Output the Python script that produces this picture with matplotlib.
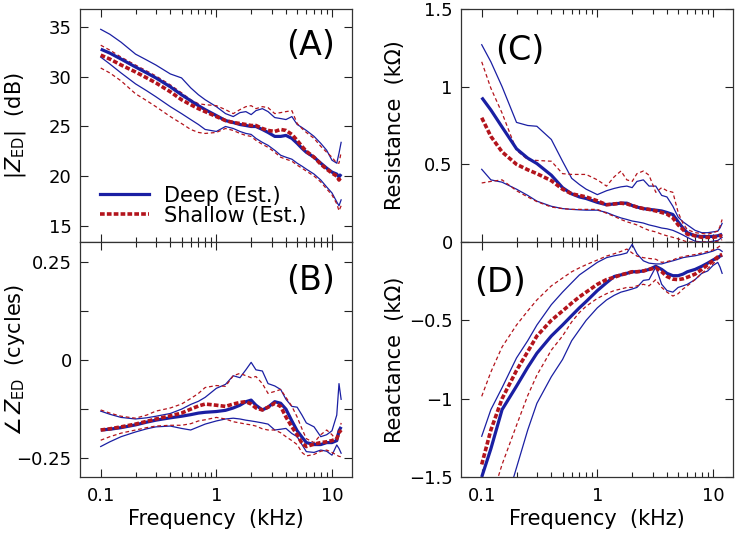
import matplotlib
matplotlib.use("Agg")
import matplotlib.pyplot as plt
from matplotlib.lines import Line2D
from matplotlib.ticker import FixedLocator, FuncFormatter, NullFormatter

# ---------------- data ----------------
freq_khz = [0.1, 0.12, 0.15, 0.2, 0.25, 0.3, 0.4, 0.5, 0.6, 0.7, 0.8, 1.0, 1.2, 1.4,
            1.6, 1.8, 2.0, 2.2, 2.5, 2.8, 3.2, 3.6, 4.0, 4.5, 5.0, 5.5, 6.0, 7.0,
            8.0, 9.0, 10.0, 11.0, 11.5, 12.0]

# (A) |Z_ED| (dB)
magA_deep_mean = [32.8, 32.4, 31.8, 31.0, 30.4, 29.9, 29.0, 28.2, 27.6, 27.1, 26.7, 26.1, 25.6, 25.4,
                  25.2, 25.1, 25.0, 25.0, 24.7, 24.4, 24.0, 24.0, 24.1, 23.8, 23.3, 22.8, 22.4, 21.9,
                  21.3, 20.8, 20.4, 20.2, 19.9, 20.2]
magA_deep_hi = [34.8, 34.3, 33.5, 32.3, 31.7, 31.2, 30.3, 29.9, 28.9, 28.2, 27.7, 27.0, 26.3, 26.0,
                26.4, 26.5, 26.2, 26.6, 26.8, 26.5, 25.9, 25.8, 25.7, 26.0, 25.2, 24.9, 24.6, 24.0,
                23.3, 22.6, 21.6, 21.3, 22.3, 23.4]
magA_deep_lo = [32.0, 31.3, 30.4, 29.3, 28.6, 28.0, 27.0, 26.3, 25.7, 25.2, 24.7, 24.5, 25.0, 24.8,
                24.5, 24.3, 24.2, 23.8, 23.4, 23.1, 22.6, 22.1, 21.9, 21.7, 21.3, 21.0, 20.7, 20.2,
                19.6, 18.9, 18.3, 17.4, 17.0, 17.6]
magA_shal_mean = [32.2, 31.8, 31.2, 30.5, 29.9, 29.4, 28.5, 27.7, 27.2, 26.8, 26.5, 26.0, 25.6, 25.4,
                  25.3, 25.2, 25.1, 25.1, 24.8, 24.6, 24.5, 24.7, 24.6, 24.2, 23.6, 23.0, 22.5, 21.9,
                  21.2, 20.7, 20.3, 20.0, 19.6, 19.9]
magA_shal_hi = [33.2, 32.7, 32.0, 31.2, 30.6, 30.1, 29.2, 28.4, 27.7, 27.3, 27.2, 27.1, 26.7, 26.3,
                26.7, 27.0, 27.1, 26.8, 27.0, 26.9, 26.3, 26.4, 26.5, 26.6, 25.3, 24.8, 24.4, 23.8,
                23.0, 22.4, 21.9, 21.3, 21.3, 22.4]
magA_shal_lo = [30.9, 30.4, 29.6, 28.3, 27.6, 27.0, 26.0, 25.3, 24.7, 24.4, 24.3, 24.4, 24.8, 24.6,
                24.3, 24.1, 24.0, 23.6, 23.2, 22.9, 22.4, 21.9, 21.7, 21.5, 21.1, 20.8, 20.5, 20.0,
                19.4, 18.7, 18.1, 17.2, 16.5, 17.0]

# (B) angle Z_ED (cycles)
angB_deep_mean = [-0.178, -0.176, -0.172, -0.165, -0.158, -0.153, -0.147, -0.143, -0.139, -0.135, -0.133,
                  -0.131, -0.128, -0.122, -0.115, -0.106, -0.102, -0.115, -0.127, -0.12, -0.106, -0.11,
                  -0.125, -0.155, -0.18, -0.196, -0.21, -0.215, -0.215, -0.21, -0.21, -0.205, -0.18, -0.17]
angB_deep_hi = [-0.13, -0.138, -0.146, -0.15, -0.147, -0.143, -0.136, -0.125, -0.113, -0.105, -0.095,
                -0.072, -0.062, -0.04, -0.045, -0.025, -0.006, -0.025, -0.028, -0.06, -0.066, -0.075,
                -0.1, -0.118, -0.12, -0.14, -0.16, -0.17, -0.195, -0.19, -0.18, -0.14, -0.06, -0.1]
angB_deep_lo = [-0.22, -0.208, -0.195, -0.183, -0.175, -0.17, -0.168, -0.174, -0.178, -0.17, -0.163,
                -0.155, -0.15, -0.148, -0.15, -0.153, -0.155, -0.157, -0.16, -0.163, -0.178, -0.176,
                -0.174, -0.187, -0.195, -0.215, -0.233, -0.235, -0.229, -0.232, -0.242, -0.216, -0.225, -0.237]
angB_shal_mean = [-0.178, -0.175, -0.17, -0.163, -0.156, -0.15, -0.142, -0.135, -0.125, -0.117, -0.112,
                  -0.115, -0.118, -0.112, -0.108, -0.106, -0.112, -0.122, -0.127, -0.12, -0.11, -0.118,
                  -0.145, -0.17, -0.19, -0.212, -0.22, -0.214, -0.21, -0.208, -0.205, -0.2, -0.185, -0.178]
angB_shal_hi = [-0.127, -0.135, -0.143, -0.148, -0.14, -0.13, -0.122, -0.112, -0.098, -0.085, -0.07,
                -0.065, -0.067, -0.04, -0.034, -0.04, -0.045, -0.042, -0.06, -0.085, -0.08, -0.075,
                -0.095, -0.118, -0.145, -0.175, -0.2, -0.21, -0.19, -0.178, -0.19, -0.205, -0.19, -0.16]
angB_shal_lo = [-0.204, -0.195, -0.186, -0.178, -0.172, -0.168, -0.166, -0.166, -0.162, -0.155, -0.152,
                -0.146, -0.15, -0.157, -0.16, -0.163, -0.165, -0.168, -0.175, -0.178, -0.178, -0.185,
                -0.195, -0.205, -0.215, -0.235, -0.244, -0.24, -0.232, -0.229, -0.235, -0.242, -0.245, -0.246]

# (C) Resistance (kOhm)
resC_deep_mean = [0.93, 0.85, 0.74, 0.60, 0.54, 0.505, 0.43, 0.35, 0.31, 0.29, 0.28, 0.255, 0.24, 0.245,
                  0.25, 0.25, 0.235, 0.225, 0.215, 0.21, 0.205, 0.2, 0.19, 0.177, 0.13, 0.09, 0.06, 0.04,
                  0.035, 0.035, 0.036, 0.04, 0.045, 0.05]
resC_deep_hi = [1.27, 1.16, 1.0, 0.77, 0.75, 0.745, 0.66, 0.52, 0.41, 0.37, 0.34, 0.305, 0.33, 0.345,
                0.355, 0.36, 0.35, 0.39, 0.40, 0.36, 0.36, 0.30, 0.29, 0.23, 0.16, 0.13, 0.11, 0.075,
                0.06, 0.06, 0.065, 0.07, 0.09, 0.12]
resC_deep_lo = [0.468, 0.40, 0.385, 0.34, 0.30, 0.263, 0.23, 0.215, 0.21, 0.207, 0.205, 0.205, 0.19, 0.17,
                0.155, 0.145, 0.135, 0.13, 0.122, 0.11, 0.1, 0.09, 0.085, 0.075, 0.06, 0.045, 0.03, 0.005,
                0.0, 0.0, 0.005, 0.01, 0.02, 0.03]
resC_shal_mean = [0.80, 0.68, 0.58, 0.50, 0.465, 0.44, 0.395, 0.34, 0.31, 0.30, 0.29, 0.265, 0.24, 0.245,
                  0.25, 0.245, 0.235, 0.225, 0.215, 0.21, 0.2, 0.19, 0.18, 0.155, 0.11, 0.08, 0.05, 0.04,
                  0.03, 0.03, 0.03, 0.035, 0.04, 0.036]
resC_shal_hi = [1.16, 0.99, 0.83, 0.59, 0.53, 0.525, 0.52, 0.44, 0.435, 0.435, 0.435, 0.40, 0.36, 0.42,
                0.457, 0.40, 0.39, 0.44, 0.457, 0.43, 0.32, 0.35, 0.33, 0.32, 0.19, 0.12, 0.08, 0.06,
                0.055, 0.05, 0.06, 0.07, 0.1, 0.145]
resC_shal_lo = [0.38, 0.39, 0.40, 0.33, 0.29, 0.26, 0.225, 0.215, 0.21, 0.21, 0.21, 0.21, 0.185, 0.165,
                0.145, 0.13, 0.12, 0.11, 0.09, 0.075, 0.065, 0.05, 0.04, 0.03, 0.02, 0.01, 0.0, 0.0,
                0.0, 0.0, 0.0, 0.005, 0.01, 0.015]

# (D) Reactance (kOhm)
reaD_deep_mean = [-1.5, -1.32, -1.07, -0.92, -0.8, -0.71, -0.6, -0.53, -0.47, -0.42, -0.38, -0.31, -0.26,
                  -0.22, -0.21, -0.2, -0.19, -0.19, -0.185, -0.175, -0.155, -0.175, -0.2, -0.215, -0.215,
                  -0.205, -0.19, -0.175, -0.155, -0.135, -0.115, -0.1, -0.09, -0.085]
reaD_deep_hi = [-1.24, -1.07, -0.93, -0.74, -0.63, -0.53, -0.4, -0.32, -0.26, -0.21, -0.18, -0.13, -0.1,
                -0.088, -0.08, -0.07, -0.015, -0.075, -0.12, -0.135, -0.14, -0.14, -0.13, -0.12, -0.11,
                -0.1, -0.095, -0.088, -0.078, -0.068, -0.058, -0.045, -0.05, -0.06]
reaD_deep_lo = [-2.3, -2.0, -1.75, -1.44, -1.2, -1.03, -0.86, -0.75, -0.63, -0.56, -0.5, -0.42, -0.37,
                -0.34, -0.32, -0.31, -0.3, -0.29, -0.245, -0.24, -0.16, -0.27, -0.31, -0.32, -0.29,
                -0.28, -0.27, -0.24, -0.2, -0.185, -0.15, -0.13, -0.16, -0.2]
reaD_shal_mean = [-1.42, -1.2, -1.0, -0.82, -0.7, -0.6, -0.5, -0.44, -0.39, -0.35, -0.32, -0.27, -0.24,
                  -0.225, -0.21, -0.2, -0.19, -0.19, -0.185, -0.175, -0.165, -0.19, -0.22, -0.237, -0.24,
                  -0.235, -0.225, -0.205, -0.175, -0.145, -0.12, -0.095, -0.085, -0.08]
reaD_shal_hi = [-0.985, -0.83, -0.67, -0.53, -0.44, -0.37, -0.28, -0.23, -0.19, -0.165, -0.145, -0.115,
                -0.09, -0.075, -0.06, -0.045, -0.07, -0.09, -0.1, -0.105, -0.11, -0.13, -0.125, -0.115,
                -0.1, -0.095, -0.088, -0.08, -0.07, -0.06, -0.05, -0.035, -0.025, -0.03]
reaD_shal_lo = [-1.85, -1.65, -1.42, -1.17, -0.98, -0.85, -0.69, -0.6, -0.51, -0.45, -0.41, -0.36, -0.33,
                -0.31, -0.3, -0.29, -0.29, -0.28, -0.27, -0.28, -0.24, -0.29, -0.32, -0.345, -0.33,
                -0.3, -0.28, -0.24, -0.2, -0.17, -0.14, -0.11, -0.1, -0.09]

legend_labels = ["Deep (Est.)", "Shallow (Est.)"]
panel_letters = ["(A)", "(B)", "(C)", "(D)"]

# ---------------- style ----------------
plt.rcParams["font.family"] = ["DejaVu Sans"]
plt.rcParams["mathtext.fontset"] = "dejavusans"
BLUE = "#1a1fa3"
RED = "#b3141c"
TICK_FS = 13
LABEL_FS = 15

fig = plt.figure(figsize=(7.37, 5.38), dpi=100)
W = 272 / 737
axA = fig.add_axes([80 / 737, 1 - 242 / 538, W, 233 / 538])
axB = fig.add_axes([80 / 737, 1 - 477 / 538, W, 235 / 538])
axC = fig.add_axes([461 / 737, 1 - 242 / 538, W, 233 / 538])
axD = fig.add_axes([461 / 737, 1 - 477 / 538, W, 235 / 538])


def draw(ax, dm, dh, dl, sm, sh, sl):
    kw_thin_b = dict(color=BLUE, lw=0.9, solid_joinstyle="round")
    kw_thin_r = dict(color=RED, lw=0.9, linestyle=(0, (3.0, 2.2)))
    ax.plot(freq_khz, dh, **kw_thin_b)
    ax.plot(freq_khz, dl, **kw_thin_b)
    ax.plot(freq_khz, sh, **kw_thin_r)
    ax.plot(freq_khz, sl, **kw_thin_r)
    ax.plot(freq_khz, dm, color=BLUE, lw=2.3, solid_capstyle="butt")
    ax.plot(freq_khz, sm, color=RED, lw=2.6, linestyle=(0, (1.3, 0.6)))


draw(axA, magA_deep_mean, magA_deep_hi, magA_deep_lo, magA_shal_mean, magA_shal_hi, magA_shal_lo)
draw(axB, angB_deep_mean, angB_deep_hi, angB_deep_lo, angB_shal_mean, angB_shal_hi, angB_shal_lo)
draw(axC, resC_deep_mean, resC_deep_hi, resC_deep_lo, resC_shal_mean, resC_shal_hi, resC_shal_lo)
draw(axD, reaD_deep_mean, reaD_deep_hi, reaD_deep_lo, reaD_shal_mean, reaD_shal_hi, reaD_shal_lo)


def num_fmt(labels):
    def f(v, pos):
        for key, txt in labels.items():
            if abs(v - key) < 1e-9:
                return txt
        return ""
    return FuncFormatter(f)


minor_x = [m * 10.0 ** e for e in (-1, 0) for m in range(2, 10)]
for ax in (axA, axB, axC, axD):
    ax.set_xscale("log")
    ax.set_xlim(0.0662, 14.9)
    ax.xaxis.set_major_locator(FixedLocator([0.1, 1, 10]))
    ax.xaxis.set_minor_locator(FixedLocator(minor_x))
    ax.xaxis.set_minor_formatter(NullFormatter())
    ax.xaxis.set_major_formatter(num_fmt({0.1: "0.1", 1: "1", 10: "10"}))
    ax.tick_params(which="both", direction="in", top=True, right=True,
                   labelsize=TICK_FS, color="#222222", width=0.8)
    ax.tick_params(which="major", length=6)
    ax.tick_params(which="minor", length=3.5)
    ax.tick_params(axis="x", pad=7)
    ax.tick_params(axis="y", pad=6)
    for s in ax.spines.values():
        s.set_linewidth(0.9)
        s.set_color("#333333")

for ax in (axA, axC):
    ax.tick_params(axis="x", labelbottom=False)

axA.set_ylim(13.35, 36.85)
axA.yaxis.set_major_locator(FixedLocator([15, 20, 25, 30, 35]))
axA.yaxis.set_major_formatter(num_fmt({15: "15", 20: "20", 25: "25", 30: "30", 35: "35"}))

axB.set_ylim(-0.2975, 0.30)
axB.yaxis.set_major_locator(FixedLocator([-0.25, -0.125, 0, 0.125, 0.25]))
axB.yaxis.set_major_formatter(num_fmt({-0.25: "\u22120.25", 0: "0", 0.25: "0.25"}))

axC.set_ylim(0, 1.5)
axC.yaxis.set_major_locator(FixedLocator([0, 0.5, 1, 1.5]))
axC.yaxis.set_major_formatter(num_fmt({0: "0", 0.5: "0.5", 1: "1", 1.5: "1.5"}))

axD.set_ylim(-1.5, 0)
axD.yaxis.set_major_locator(FixedLocator([-1.5, -1, -0.5, 0]))
axD.yaxis.set_major_formatter(num_fmt({-1.5: "\u22121.5", -1: "\u22121", -0.5: "\u22120.5"}))

axA.set_ylabel(r"$|Z_{\mathrm{ED}}|$  (dB)", fontsize=LABEL_FS)
axB.set_ylabel(r"$\angle\, Z_{\mathrm{ED}}$  (cycles)", fontsize=LABEL_FS)
axC.set_ylabel("Resistance  (k\u03a9)", fontsize=LABEL_FS)
axD.set_ylabel("Reactance  (k\u03a9)", fontsize=LABEL_FS)
axA.yaxis.set_label_coords(-0.19, 0.5)
axB.yaxis.set_label_coords(-0.195, 0.5)
axC.yaxis.set_label_coords(-0.206, 0.5)
axD.yaxis.set_label_coords(-0.206, 0.5)

axB.set_xlabel("Frequency  (kHz)", fontsize=LABEL_FS, labelpad=3)
axD.set_xlabel("Frequency  (kHz)", fontsize=LABEL_FS, labelpad=3)

letter_pos = [(axA, 0.846, 0.845), (axB, 0.846, 0.838), (axC, 0.217, 0.824), (axD, 0.143, 0.826)]
for (ax, x, y), txt in zip(letter_pos, panel_letters):
    ax.text(x, y, txt, transform=ax.transAxes, ha="center", va="center", fontsize=24)

handles = [Line2D([], [], color=BLUE, lw=2.3),
           Line2D([], [], color=RED, lw=2.6, linestyle=(0, (1.3, 0.6)))]
axA.legend(handles, legend_labels, loc="lower left", bbox_to_anchor=(0.075, 0.07),
           frameon=False, fontsize=15, handlelength=2.35, handletextpad=0.7,
           labelspacing=0.0, borderpad=0, borderaxespad=0)

fig.savefig("out.png", dpi=100)
